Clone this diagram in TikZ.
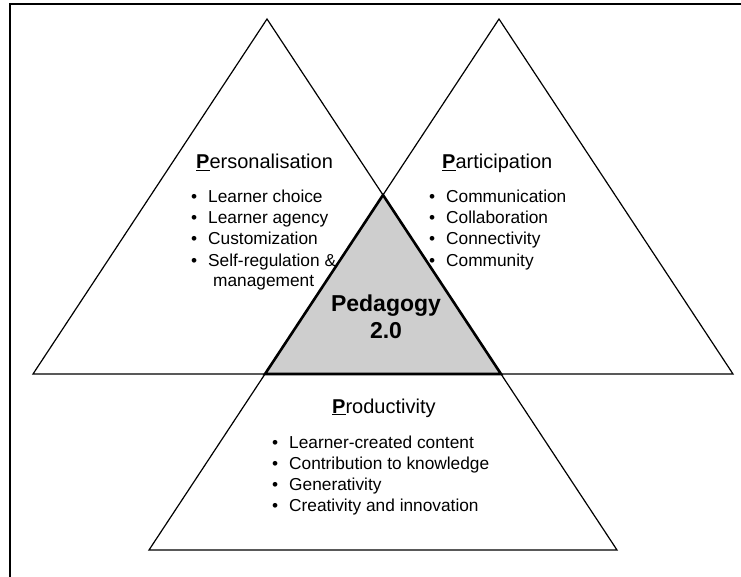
\documentclass[tikz,border=0pt]{standalone}
\usepackage{fontspec}
\setmainfont{Liberation Sans}
\definecolor{coregray}{RGB}{206,206,206}
\newcommand{\bul}{\makebox[17pt][l]{•}}
\newcommand{\ulP}{\underline{\textbf{P}}}
\begin{document}
\begin{tikzpicture}[x=1pt,y=-1pt,
  frame/.style={draw=black, line width=1.5pt},
  tri/.style={draw=black, line width=1.2pt, line join=miter},
  core/.style={draw=black, fill=coregray, line width=2.6pt, line join=miter},
  title/.style={anchor=base west, inner sep=0pt, font=\fontsize{20}{24}\selectfont},
  item/.style={anchor=base west, inner sep=0pt, font=\fontsize{17.3}{21}\selectfont},
  centre/.style={anchor=base, inner sep=0pt, font=\fontsize{23}{27}\selectfont\bfseries}]
\useasboundingbox (0,0) rectangle (741,577);

% outer frame
\draw[frame] (10,577) -- (10,4) -- (741,4);

% three congruent triangles (height 355, half base 234)
\coordinate (LA) at (267,19);  \coordinate (LB) at (33,374);  \coordinate (LC) at (501,374);
\coordinate (RA) at (499,19);  \coordinate (RB) at (265,374); \coordinate (RC) at (733,374);
\coordinate (BA) at (383,195); \coordinate (BB) at (149,550); \coordinate (BC) at (617,550);

\draw[tri] (LA) -- (LB) -- (LC) -- cycle;
\draw[tri] (RA) -- (RB) -- (RC) -- cycle;
\draw[tri] (BA) -- (BB) -- (BC) -- cycle;

% shared core
\draw[core] (BA) -- (RB) -- (LC) -- cycle;

% core label
\node[centre] (ped) at (386,311) {Pedagogy};
\node[centre] (ver) at (386,338) {2.0};

% Personalisation
\node[title] (pers) at (196,169) {\ulP ersonalisation};
\node[item] (pe1) at (191,203) {\bul Learner choice};
\node[item] (pe2) at (191,224) {\bul Learner agency};
\node[item] (pe3) at (191,245) {\bul Customization};
\node[item] (pe4) at (191,266) {\bul Self-regulation \&};
\node[item] (pe5) at (213,287) {management};

% Participation
\node[title] (part) at (442,169) {\ulP articipation};
\node[item] (pa1) at (429,203) {\bul Communication};
\node[item] (pa2) at (429,224) {\bul Collaboration};
\node[item] (pa3) at (429,245) {\bul Connectivity};
\node[item] (pa4) at (429,266) {\bul Community};

% Productivity
\node[title] (prod) at (332,413) {\ulP roductivity};
\node[item] (pr1) at (272,448) {\bul Learner-created content};
\node[item] (pr2) at (272,469) {\bul Contribution to knowledge};
\node[item] (pr3) at (272,490) {\bul Generativity};
\node[item] (pr4) at (272,511) {\bul Creativity and innovation};
\end{tikzpicture}
\end{document}
